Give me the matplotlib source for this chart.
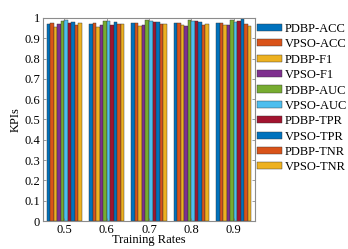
import numpy as np
import matplotlib
matplotlib.use('Agg')
import matplotlib.pyplot as plt

# Data
rates = [0.5, 0.6, 0.7, 0.8, 0.9]
series_names = ['PDBP-ACC', 'VPSO-ACC', 'PDBP-F1', 'VPSO-F1', 'PDBP-AUC',
                'VPSO-AUC', 'PDBP-TPR', 'VPSO-TPR', 'PDBP-TNR', 'VPSO-TNR']
pdbp_acc = [0.969, 0.969, 0.974, 0.974, 0.974]
vpso_acc = [0.977, 0.974, 0.974, 0.974, 0.974]
pdbp_f1 = [0.954, 0.954, 0.962, 0.964, 0.966]
vpso_f1 = [0.969, 0.966, 0.966, 0.963, 0.966]
pdbp_auc = [0.985, 0.987, 0.989, 0.989, 0.989]
vpso_auc = [0.990, 0.984, 0.985, 0.985, 0.978]
pdbp_tpr = [0.974, 0.966, 0.979, 0.985, 0.985]
vpso_tpr = [0.980, 0.980, 0.979, 0.978, 0.995]
pdbp_tnr = [0.967, 0.970, 0.970, 0.966, 0.969]
vpso_tnr = [0.974, 0.970, 0.970, 0.970, 0.962]
values = [pdbp_acc, vpso_acc, pdbp_f1, vpso_f1, pdbp_auc,
          vpso_auc, pdbp_tpr, vpso_tpr, pdbp_tnr, vpso_tnr]

colors = ['#0072BD', '#D95319', '#EDB120', '#7E2F8E', '#77AC30',
          '#4DBEEE', '#A2142F', '#0072BD', '#D95319', '#EDB120']

plt.rcParams['font.family'] = 'Liberation Serif'
plt.rcParams['font.size'] = 9

fig = plt.figure(figsize=(3.48, 2.49), dpi=100)
ax = fig.add_axes([43 / 348, 1 - 221 / 249, 212 / 348, 203 / 249])

n = len(values)
w = 0.0083
x = np.array(rates)
for i, (vals, c, name) in enumerate(zip(values, colors, series_names)):
    ax.bar(x + (i - (n - 1) / 2) * w, vals, width=w, color=c,
           edgecolor='#333333', linewidth=0.3, label=name)

ax.set_xlim(0.45, 0.95)
ax.set_ylim(0, 1)
ax.set_xticks(rates)
ax.set_xticklabels(['0.5', '0.6', '0.7', '0.8', '0.9'])
ax.set_yticks(np.arange(0, 1.01, 0.1))
ax.set_yticklabels(['0', '0.1', '0.2', '0.3', '0.4', '0.5', '0.6', '0.7', '0.8', '0.9', '1'])
ax.tick_params(direction='in', length=2.5, width=0.5, color='0.45',
               top=True, right=True, pad=2)
for s in ax.spines.values():
    s.set_color('0.55')
    s.set_linewidth(0.8)
ax.set_xlabel('Training Rates', labelpad=-1)
ax.set_ylabel('KPIs', labelpad=2)

fig.legend(loc='upper left', bbox_to_anchor=(257 / 348, 1 - 23 / 249),
           frameon=False, handlelength=2.0, handleheight=0.5,
           handletextpad=0.2, labelspacing=0.27, borderaxespad=0,
           borderpad=0, fontsize=9)

fig.savefig('out.png', dpi=100)
